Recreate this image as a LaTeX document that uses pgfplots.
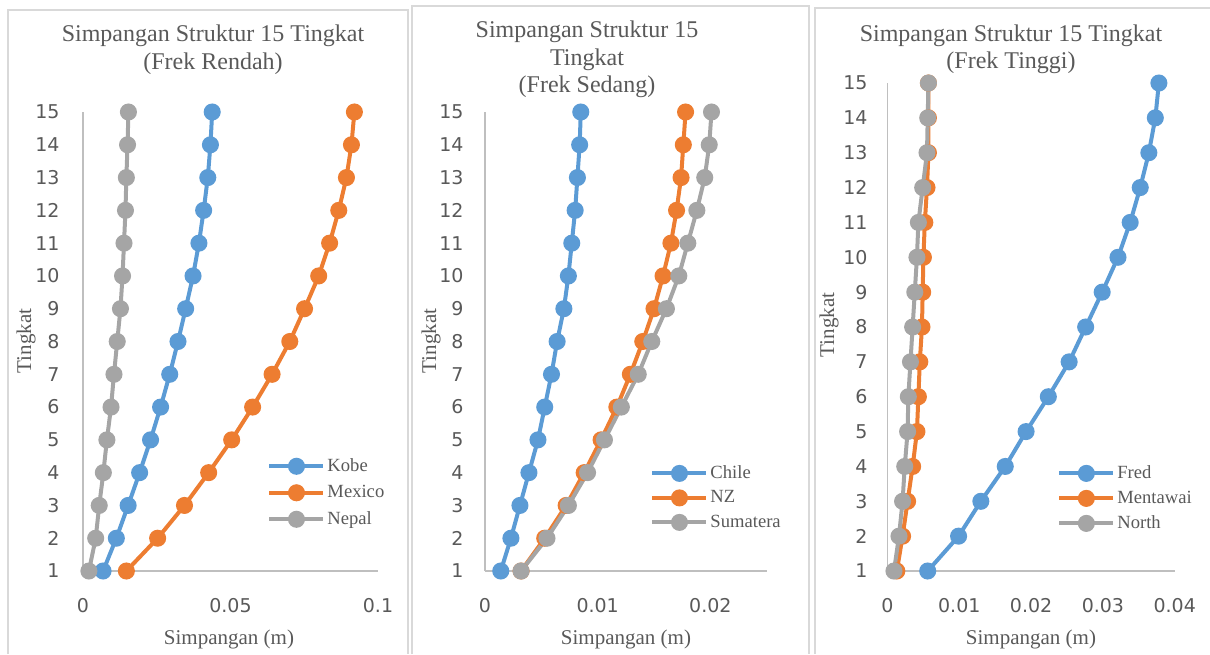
\documentclass[border=0pt]{standalone}
\usepackage{pgfplots}
\usepackage{pgfplotstable}
\pgfplotsset{compat=1.18}
\usepackage{fontspec}
\setmainfont{Liberation Serif}
\newfontfamily\tickfont{DejaVu Sans}

\definecolor{sblue}{HTML}{5B9BD5}
\definecolor{sorange}{HTML}{ED7D31}
\definecolor{sgray}{HTML}{A5A5A5}
\definecolor{txt}{HTML}{595959}
\definecolor{axln}{HTML}{BFBFBF}
\definecolor{panelframe}{HTML}{D9D9D9}

% lateral displacement (m) per storey
\pgfplotstableread{
lvl kobe   mexico nepal
1   0.0068 0.0147 0.0020
2   0.0113 0.0253 0.0043
3   0.0153 0.0344 0.0055
4   0.0192 0.0426 0.0069
5   0.0229 0.0504 0.0081
6   0.0263 0.0575 0.0095
7   0.0294 0.0641 0.0105
8   0.0322 0.0701 0.0116
9   0.0348 0.0751 0.0127
10  0.0373 0.0799 0.0134
11  0.0393 0.0836 0.0139
12  0.0409 0.0867 0.0144
13  0.0423 0.0893 0.0147
14  0.0432 0.0910 0.0151
15  0.0438 0.0920 0.0154
}\rendah

\pgfplotstableread{
lvl chile  nz     sumatera
1   0.0014 0.0032 0.0032
2   0.0023 0.0053 0.0055
3   0.0031 0.0072 0.0074
4   0.0039 0.0088 0.0091
5   0.0047 0.0103 0.0106
6   0.0053 0.0117 0.0121
7   0.0059 0.0129 0.0136
8   0.0064 0.0140 0.0148
9   0.0070 0.0150 0.0161
10  0.0074 0.0158 0.0172
11  0.0077 0.0165 0.0180
12  0.0080 0.0170 0.0188
13  0.0082 0.0174 0.0195
14  0.0084 0.0176 0.0199
15  0.0085 0.0178 0.0201
}\sedang

\pgfplotstableread{
lvl fred   mentawai north
1   0.0056 0.0013   0.0009
2   0.0099 0.0021   0.0016
3   0.0130 0.0028   0.0021
4   0.0164 0.0035   0.0024
5   0.0193 0.0041   0.0028
6   0.0224 0.0043   0.0029
7   0.0253 0.0045   0.0032
8   0.0276 0.0048   0.0035
9   0.0299 0.0049   0.0038
10  0.0321 0.0050   0.0041
11  0.0338 0.0052   0.0043
12  0.0352 0.0055   0.0049
13  0.0364 0.0057   0.0055
14  0.0373 0.0057   0.0056
15  0.0378 0.0057   0.0057
}\tinggi

\pgfplotsset{
  legend image code/.code={%
    \draw[mark repeat=2,mark phase=2,#1] plot coordinates {(0pt,0pt) (13.5pt,0pt) (27pt,0pt)};},
  drift/.style={
    scale only axis,
    anchor=south west,
    axis lines=left,
    axis line style={-, draw=axln, line width=0.75pt},
    major tick length=0pt,
    ymin=1, ymax=15, ytick={1,...,15},
    scaled x ticks=false,
    /pgf/number format/assume math mode=true,
    tick label style={font=\tickfont\fontsize{9.5}{11}\selectfont, text=txt},
    xticklabel style={yshift=-10.2pt},
    clip=false,
    every axis plot/.append style={line width=2pt, mark=*, mark size=3.25pt, mark options={solid}},
    legend cell align=left,
    legend style={draw=none, fill=none, inner sep=0pt, anchor=north west,
      font=\fontsize{9.3}{10}\selectfont, text=txt,
      nodes={inner sep=1pt, text height=7pt, text depth=2pt, anchor=west}},
  }
}

\begin{document}
\begin{tikzpicture}
\useasboundingbox (0pt,0pt) rectangle (605pt,-327pt);

% panel frames
\draw[panelframe, line width=1pt] (4pt,-327pt) -- (4pt,-5pt) -- (204pt,-5pt) -- (204pt,-327pt);
\draw[panelframe, line width=1pt] (206pt,-327pt) -- (206pt,-3pt) -- (404.5pt,-3pt) -- (404.5pt,-327pt);
\draw[panelframe, line width=1pt] (407.5pt,-327pt) -- (407.5pt,-4pt) -- (605pt,-4pt);

% Frek Rendah
\begin{axis}[drift,
  at={(41.5pt,-285.5pt)}, width=147.5pt, height=229.5pt,
  xmin=0, xmax=0.1, xtick={0,0.05,0.1}, xticklabels={0,0.05,0.1},
  yticklabel style={xshift=-8.2pt},
  legend style={at={(0.624,0.253)}, row sep=2.25pt}]
\addplot[sblue]   table[x=kobe,   y=lvl] {\rendah};
\addplot[sorange] table[x=mexico, y=lvl] {\rendah};
\addplot[sgray]   table[x=nepal,  y=lvl] {\rendah};
\legend{Kobe, Mexico, Nepal}
\end{axis}

% Frek Sedang
\begin{axis}[drift,
  at={(242.5pt,-285.5pt)}, width=140.85pt, height=229.5pt,
  xmin=0, xmax=0.025, xtick={0,0.01,0.02}, xticklabels={0,0.01,0.02},
  yticklabel style={xshift=-7.2pt},
  legend style={at={(0.586,0.2375)}, row sep=1.25pt}]
\addplot[sblue]   table[x=chile,    y=lvl] {\sedang};
\addplot[sorange] table[x=nz,       y=lvl] {\sedang};
\addplot[sgray]   table[x=sumatera, y=lvl] {\sedang};
\legend{Chile, NZ, Sumatera}
\end{axis}

% Frek Tinggi
\begin{axis}[drift,
  at={(443.75pt,-285.5pt)}, width=143.6pt, height=244pt,
  xmin=0, xmax=0.04, xtick={0,0.01,0.02,0.03,0.04}, xticklabels={0,0.01,0.02,0.03,0.04},
  yticklabel style={xshift=-6.5pt},
  legend style={at={(0.590,0.2234)}, row sep=1.5pt}]
\addplot[sblue]   table[x=fred,     y=lvl] {\tinggi};
\addplot[sorange] table[x=mentawai, y=lvl] {\tinggi};
\addplot[sgray]   table[x=north,    y=lvl] {\tinggi};
\legend{Fred, Mentawai, North}
\end{axis}

% titles
\begin{scope}[every node/.style={text=txt, font=\fontsize{12}{14}\selectfont, anchor=base, inner sep=0pt}]
\node at (106.5pt,-20.85pt) {Simpangan Struktur 15 Tingkat};
\node at (106.5pt,-34.6pt) {(Frek Rendah)};
\node at (293.5pt,-18.75pt) {Simpangan Struktur 15};
\node at (293.5pt,-32.5pt) {Tingkat};
\node at (293.5pt,-46.25pt) {(Frek Sedang)};
\node at (505.5pt,-20.5pt) {Simpangan Struktur 15 Tingkat};
\node at (505.5pt,-34.25pt) {(Frek Tinggi)};
\end{scope}

% axis titles
\begin{scope}[every node/.style={text=txt, font=\fontsize{10.5}{12}\selectfont, inner sep=0pt}]
\node[anchor=base] at (114.5pt,-322pt) {Simpangan (m)};
\node[anchor=base] at (313pt,-322pt) {Simpangan (m)};
\node[anchor=base] at (515.5pt,-322pt) {Simpangan (m)};
\node[rotate=90] at (13pt,-170.5pt) {Tingkat};
\node[rotate=90] at (215.5pt,-170.5pt) {Tingkat};
\node[rotate=90] at (414.5pt,-162.5pt) {Tingkat};
\end{scope}
\end{tikzpicture}
\end{document}
